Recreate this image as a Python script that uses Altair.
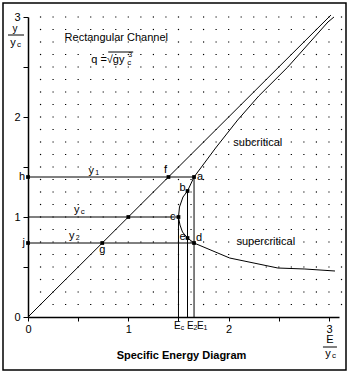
import altair as alt
import pandas as pd
import numpy as np

FONT = "Liberation Sans"

# Specific energy curve E/yc vs y/yc, supercritical tail -> subcritical top
curve_E = [3.06, 2.76, 2.49, 2.01, 1.655, 1.59, 1.54, 1.515, 1.50, 1.51, 1.545, 1.59, 1.655, 1.87, 2.09, 2.30, 2.59, 2.99, 3.05]
curve_y = [0.46, 0.48, 0.49, 0.59, 0.74, 0.79, 0.85, 0.92, 1.00, 1.10, 1.20, 1.26, 1.40, 1.69, 1.97, 2.21, 2.50, 2.95, 3.00]

# 45 degree line y = E
diag_E = [0.0, 3.02]
diag_y = [0.0, 3.02]

# key levels
y1, yc, y2 = 1.40, 1.00, 0.74
E1, Ec, E2 = 1.655, 1.50, 1.59
yb, ye = 1.26, 0.79

# labelled points
point_names = ["h", "f", "a", "b", "c", "mid", "e", "d", "j", "g"]
point_E = [0.0, 1.40, E1, E2, Ec, 1.0, E2, E1, 0.0, 0.74]
point_y = [y1, y1, y1, yb, yc, 1.0, ye, y2, y2, 0.74]

# straight segments (x1, y1, x2, y2)
seg_x1 = [0.0, 0.0, 0.0, Ec, E2, E1, diag_E[0]]
seg_y1 = [y1, yc, y2, 0.0, 0.0, 0.0, diag_y[0]]
seg_x2 = [E1, Ec, E1, Ec, E2, E1, diag_E[1]]
seg_y2 = [y1, yc, y2, yc, yb, y1, diag_y[1]]

tick_vals = [0, 0.5, 1, 1.5, 2, 2.5, 3]

XD = [0, 3.1]
YD = [0, 3]

xs = alt.Scale(domain=XD, nice=False, zero=False)
ys = alt.Scale(domain=YD, nice=False, zero=False)

axis_common = dict(
    values=tick_vals,
    labelExpr="datum.value % 1 == 0 ? format(datum.value, 'd') : ''",
    title=None, grid=False, domainColor="black", domainWidth=1.5,
    tickColor="black", tickWidth=1, labelColor="black", labelFont=FONT,
    labelFontSize=11, labelFlush=False, labelOverlap=False,
)

curve_df = pd.DataFrame({"E": curve_E, "y": curve_y, "o": list(range(len(curve_E)))})
curve = alt.Chart(curve_df).mark_line(color="black", strokeWidth=1, clip=False).encode(
    x=alt.X("E:Q", scale=xs, title=None, axis=alt.Axis(tickSize=4, labelPadding=2, **axis_common)),
    y=alt.Y("y:Q", scale=ys, title=None, axis=alt.Axis(tickSize=5, labelPadding=3, **axis_common)),
    order="o:Q",
)

# dotted background grid
gx, gy = np.meshgrid(np.arange(1, 26) * 0.125, np.arange(1, 25) * 0.125)
grid_df = pd.DataFrame({"gx": gx.ravel(), "gy": gy.ravel()})
grid = alt.Chart(grid_df).mark_square(size=1.5, color="black", opacity=1).encode(
    x=alt.X("gx:Q", scale=xs, title=None), y=alt.Y("gy:Q", scale=ys, title=None)
)

seg_df = pd.DataFrame({"x1": seg_x1, "y1": seg_y1, "x2": seg_x2, "y2": seg_y2})
segs = alt.Chart(seg_df).mark_rule(color="black", strokeWidth=1).encode(
    x=alt.X("x1:Q", scale=xs, title=None), x2="x2:Q",
    y=alt.Y("y1:Q", scale=ys, title=None), y2="y2:Q",
)

pt_df = pd.DataFrame({"n": point_names, "E": point_E, "y": point_y})
pts = alt.Chart(pt_df).mark_square(size=14, color="black", opacity=1).encode(
    x=alt.X("E:Q", scale=xs, title=None), y=alt.Y("y:Q", scale=ys, title=None)
)

one = pd.DataFrame({"k": [0]})


def label(txt, E, y, dx=0, dy=0, size=11, align="center", weight="normal"):
    return alt.Chart(one).mark_text(
        text=txt, dx=dx, dy=dy, fontSize=size, align=align, baseline="middle",
        font=FONT, fontWeight=weight, color="black",
    ).encode(x=alt.XDatum(E), y=alt.YDatum(y))


def bar(E, y, xo1, xo2, yo):
    return alt.Chart(one).mark_rule(
        color="black", strokeWidth=1, xOffset=xo1, x2Offset=xo2, yOffset=yo, y2Offset=yo
    ).encode(x=alt.XDatum(E), x2=alt.X2Datum(E), y=alt.YDatum(y), y2=alt.Y2Datum(y))


texts = [
    label("Rectangular Channel", 0.88, 2.79),
    label("q =√gy", 0.63, 2.57, align="left"),
    label("3", 0.63, 2.57, dx=37, dy=-5, size=7, align="left"),
    label("c", 0.63, 2.57, dx=36, dy=3, size=8, align="left"),
    bar(0.63, 2.57, 17, 42, -8),
    label("subcritical", 2.29, 1.74),
    label("supercritical", 2.37, 0.75),
    label("h", 0.0, y1, dx=-3, align="right"),
    label("j", 0.0, y2, dx=-3, align="right"),
    label("f", 1.40, y1, dx=-3, dy=-7),
    label("a", E1, y1, dx=3, align="left"),
    label("b", E2, yb, dx=-2, dy=-3, align="right"),
    label("c", Ec, yc, dx=-3, align="right"),
    label("e", E2, ye, dx=-2, dy=-1, align="right"),
    label("d", E1, y2, dx=2, dy=-5, align="left"),
    label("g", 0.74, 0.74, dx=0, dy=7),
    label("y", 0.63, y1, dy=-6),
    label("1", 0.63, y1, dx=4, dy=-4, size=7, align="left"),
    label("y", 0.485, yc, dy=-7),
    label("c", 0.485, yc, dx=4, dy=-5, size=8, align="left"),
    label("y", 0.435, y2, dy=-7),
    label("2", 0.435, y2, dx=4, dy=-5, size=7, align="left"),
    # E labels under the x axis
    label("E", Ec, 0.0, dx=-4.5, dy=9, size=10, align="left"),
    label("c", Ec, 0.0, dx=2.2, dy=11, size=7, align="left"),
    label("E", E2, 0.0, dx=-0.5, dy=9, size=10, align="left"),
    label("2", E2, 0.0, dx=6, dy=11, size=7, align="left"),
    label("E", E1, 0.0, dx=3, dy=9, size=10, align="left"),
    label("1", E1, 0.0, dx=9.5, dy=11, size=7, align="left"),
    # y axis title y / yc
    label("y", 0.0, 3.0, dx=-13, dy=12, size=10),
    bar(0.0, 3.0, -20, -4, 18),
    label("y", 0.0, 3.0, dx=-15, dy=26),
    label("c", 0.0, 3.0, dx=-11, dy=28, size=8, align="left"),
    # x axis title E / yc
    label("E", 3.0, 0.0, dx=1, dy=23),
    bar(3.0, 0.0, -6, 8, 30),
    label("y", 3.0, 0.0, dx=-1, dy=37),
    label("c", 3.0, 0.0, dx=3, dy=39, size=8, align="left"),
    # bottom title
    label("Specific Energy Diagram", 1.53, 0.0, dy=39, size=11, weight="bold"),
]

frame = alt.Chart(one).mark_rect(
    fillOpacity=0, stroke="black", strokeWidth=1.5,
    xOffset=-25, x2Offset=7, yOffset=-14, y2Offset=53,
).encode(
    x=alt.XDatum(XD[0]), x2=alt.X2Datum(XD[1]),
    y=alt.YDatum(YD[1]), y2=alt.Y2Datum(YD[0]),
)

chart = alt.layer(curve, grid, segs, pts, *texts, frame).properties(
    width=311, height=300,
    autosize=alt.AutoSizeParams(type="none"),
    padding={"left": 28, "top": 17, "right": 14, "bottom": 57},
    background="white",
).configure_view(stroke=None)

chart.save("out.html", embed_options={"renderer": "svg", "actions": False})
